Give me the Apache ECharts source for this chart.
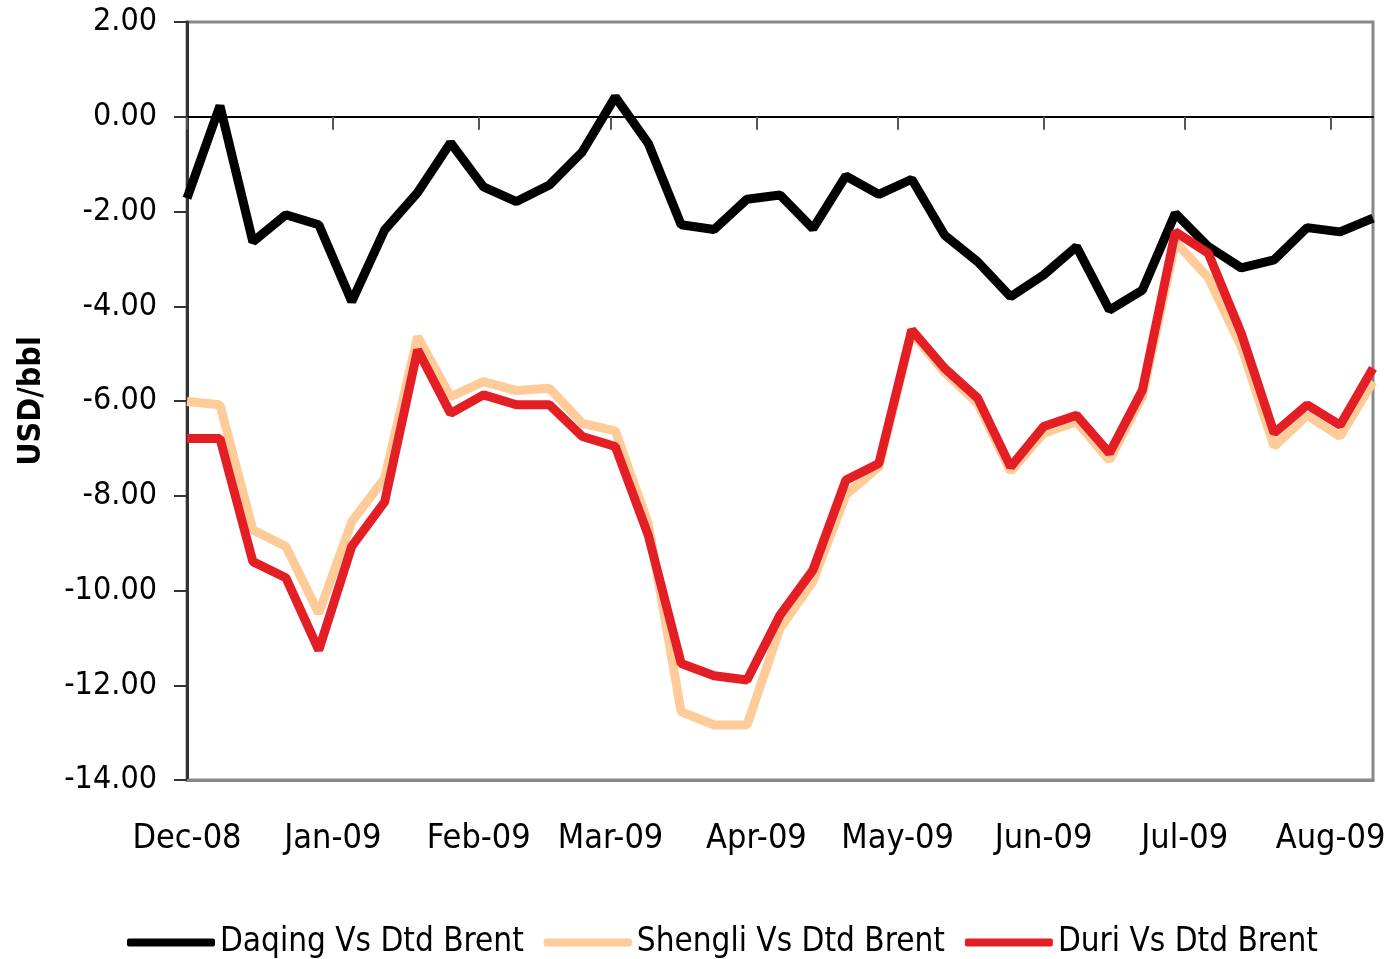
<!DOCTYPE html>
<html><head><meta charset="utf-8">
<script src="https://cdn.jsdelivr.net/npm/echarts@6/dist/echarts.min.js"></script>
<style>html,body{margin:0;padding:0;background:#fff}#c{width:1389px;height:959px}</style>
</head><body><div id="c"></div><script>
const dates = ['2008-12-01','2008-12-08','2008-12-15','2008-12-22','2008-12-29',
  '2009-01-05','2009-01-12','2009-01-19','2009-01-26',
  '2009-02-02','2009-02-09','2009-02-16','2009-02-23',
  '2009-03-02','2009-03-09','2009-03-16','2009-03-23','2009-03-30',
  '2009-04-06','2009-04-13','2009-04-20','2009-04-27',
  '2009-05-04','2009-05-11','2009-05-18','2009-05-25',
  '2009-06-01','2009-06-08','2009-06-15','2009-06-22','2009-06-29',
  '2009-07-06','2009-07-13','2009-07-20','2009-07-27',
  '2009-08-03','2009-08-10'];
const monthTicks = ['2008-12-01','2009-01-01','2009-02-01','2009-03-01','2009-04-01','2009-05-01','2009-06-01','2009-07-01','2009-08-01'];
const monthLabels = ['Dec-08','Jan-09','Feb-09','Mar-09','Apr-09','May-09','Jun-09','Jul-09','Aug-09'];
const seriesNames = ['Daqing Vs Dtd Brent','Shengli Vs Dtd Brent','Duri Vs Dtd Brent'];
const daqing = [-1.72,0.23,-2.64,-2.07,-2.28,-3.90,-2.39,-1.60,-0.55,-1.48,-1.79,-1.44,-0.74,0.42,-0.56,-2.28,-2.38,-1.74,-1.65,-2.36,-1.25,-1.64,-1.32,-2.50,-3.06,-3.80,-3.34,-2.74,-4.08,-3.66,-2.04,-2.74,-3.19,-3.02,-2.34,-2.43,-2.14];
const shengli = [-6.01,-6.08,-8.72,-9.07,-10.48,-8.55,-7.63,-4.64,-5.91,-5.59,-5.78,-5.73,-6.47,-6.63,-8.58,-12.56,-12.84,-12.84,-10.80,-9.81,-7.98,-7.39,-4.55,-5.40,-6.05,-7.49,-6.68,-6.44,-7.25,-5.90,-2.64,-3.40,-4.85,-6.96,-6.30,-6.75,-5.59];
const duri = [-6.79,-6.79,-9.39,-9.73,-11.26,-9.07,-8.13,-4.92,-6.26,-5.87,-6.08,-6.08,-6.75,-6.96,-8.83,-11.54,-11.80,-11.89,-10.52,-9.57,-7.67,-7.32,-4.50,-5.31,-5.94,-7.39,-6.54,-6.30,-7.10,-5.77,-2.43,-2.88,-4.57,-6.68,-6.08,-6.51,-5.31];
const colors = ['#000000','#FFCC99','#E31E24'];

const FONT = "'Liberation Sans Narrow','DejaVu Sans Condensed',sans-serif";
const ts = s => +new Date(s);
const tickVals = monthTicks.map(ts);
const xMin = ts(dates[0]), xMax = ts(dates[dates.length-1]);
const pair = arr => dates.map((d,i)=>[ts(d), arr[i]]);

const chart = echarts.init(document.getElementById('c'));
chart.setOption({
  animation:false,
  grid:{left:187,right:16,top:22,bottom:179,show:true,borderColor:'#888',borderWidth:3,backgroundColor:'transparent'},
  legend:{
    top:921, left:122,
    itemWidth:88, itemHeight:8, itemGap:20, icon:'roundRect',
    textStyle:{fontFamily:FONT,fontSize:33,color:'#000'},
    data:seriesNames
  },
  xAxis:[{
    type:'value', min:xMin, max:xMax, position:'bottom', scale:true,
    axisLine:{onZero:false,lineStyle:{color:'#888',width:3}},
    axisTick:{show:false},
    splitLine:{show:false},
    axisLabel:{customValues:tickVals,margin:42,fontFamily:FONT,fontSize:34,color:'#000',
      formatter:v=>{const i=tickVals.indexOf(v);return i>=0?monthLabels[i]:'';}}
  },{
    type:'value', min:xMin, max:xMax, position:'top', scale:true,
    axisLine:{onZero:true,lineStyle:{color:'#000',width:2}},
    axisTick:{show:true,inside:true,length:13,customValues:tickVals,lineStyle:{color:'#555',width:2}},
    axisLabel:{show:false},
    splitLine:{show:false}
  }],
  yAxis:{
    type:'value', min:-14, max:2, interval:2,
    name:'USD/bbl', nameLocation:'middle', nameGap:139, nameRotate:90,
    nameTextStyle:{fontFamily:FONT,fontSize:32,fontWeight:'bold',color:'#000'},
    axisLine:{show:true,lineStyle:{color:'#333',width:3}},
    axisTick:{show:true,length:13,lineStyle:{color:'#333',width:2}},
    splitLine:{show:false},
    axisLabel:{margin:30,fontFamily:FONT,fontSize:32,color:'#000',formatter:v=>v.toFixed(2)}
  },
  series:[
    {name:seriesNames[0],type:'line',xAxisIndex:0,data:pair(daqing),showSymbol:false,color:colors[0],lineStyle:{width:9,color:colors[0]},z:2},
    {name:seriesNames[1],type:'line',xAxisIndex:0,data:pair(shengli),showSymbol:false,color:colors[1],lineStyle:{width:9,color:colors[1]},z:3},
    {name:seriesNames[2],type:'line',xAxisIndex:0,data:pair(duri),showSymbol:false,color:colors[2],lineStyle:{width:9,color:colors[2]},z:4}
  ]
});
</script></body></html>
